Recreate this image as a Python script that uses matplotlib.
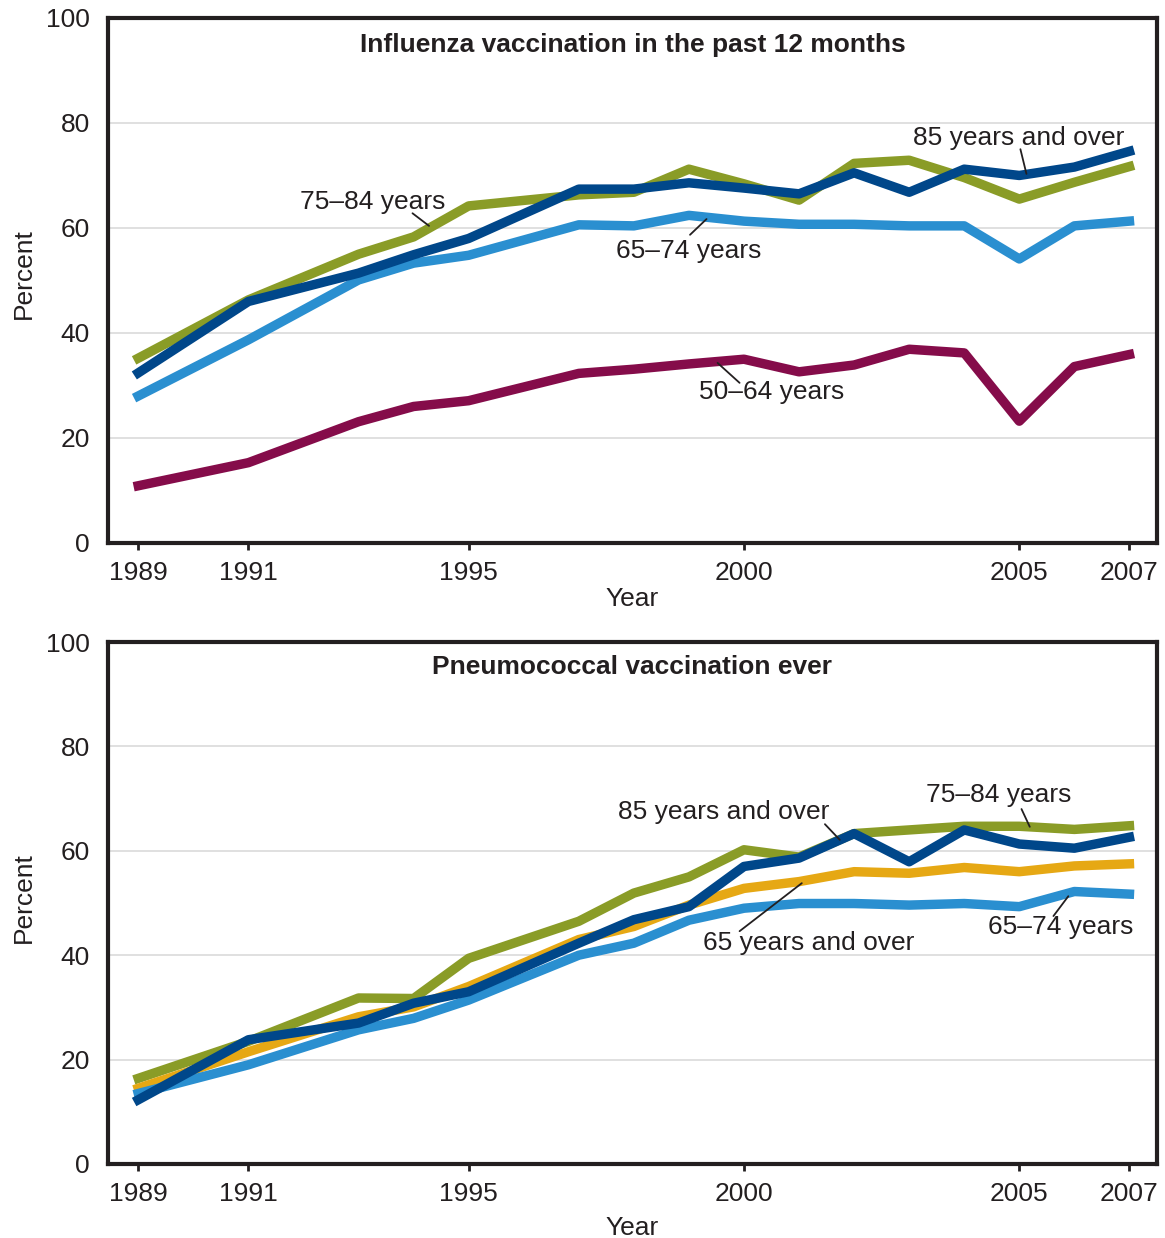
import matplotlib.pyplot as plt

plt.rcParams['font.family'] = ['Liberation Sans', 'DejaVu Sans']

years = [1989, 1991, 1993, 1994, 1995, 1997, 1998, 1999, 2000, 2001,
         2002, 2003, 2004, 2005, 2006, 2007]
tick_years = [1989, 1991, 1995, 2000, 2005, 2007]

# influenza vaccination in the past 12 months
flu_50_64 = [10.9, 15.3, 23.1, 26.0, 27.1, 32.3, 33.1, 34.1, 35.0, 32.6,
             33.9, 36.9, 36.2, 23.2, 33.6, 35.9]
flu_65_74 = [28.0, 38.7, 50.1, 53.3, 54.8, 60.6, 60.4, 62.4, 61.3, 60.7,
             60.7, 60.4, 60.4, 54.1, 60.4, 61.3]
flu_75_84 = [35.2, 46.3, 55.0, 58.3, 64.2, 66.3, 66.8, 71.2, 68.4, 65.3,
             72.3, 72.9, 69.6, 65.5, 68.7, 71.7]
flu_85 = [32.4, 46.0, 51.4, 54.9, 58.0, 67.4, 67.4, 68.6, 67.6, 66.5,
          70.5, 66.8, 71.2, 70.0, 71.6, 74.6]

# pneumococcal vaccination ever
pn_65 = [14.5, 21.5, 28.2, 30.1, 34.0, 43.0, 45.5, 49.6, 52.8, 54.1,
         56.0, 55.7, 56.8, 56.0, 57.1, 57.5]
pn_65_74 = [13.5, 19.0, 25.7, 27.9, 31.4, 40.0, 42.3, 46.7, 49.0, 49.9,
            49.9, 49.6, 49.9, 49.3, 52.2, 51.7]
pn_75_84 = [16.4, 23.5, 31.8, 31.7, 39.4, 46.5, 51.9, 55.0, 60.2, 58.8,
            63.3, 64.0, 64.7, 64.7, 64.1, 64.8]
pn_85 = [12.3, 23.8, 27.0, 30.8, 33.0, 42.3, 46.8, 49.3, 57.0, 58.6,
         63.3, 57.9, 64.0, 61.3, 60.5, 62.6]

GREEN = '#8a9c27'
DARK = '#00478a'
LIGHT = '#2a8fd0'
MAROON = '#850c4a'
ORANGE = '#e6a814'
INK = '#231f20'
FS = 19

fig = plt.figure(figsize=(11.65, 12.38), dpi=100)
ax1 = fig.add_axes([0.0927, 0.5614, 0.9004, 0.4241])
ax2 = fig.add_axes([0.0927, 0.0598, 0.9004, 0.4216])


def style(ax, title, ty, xpad, ly):
    ax.set_xlim(1988.45, 2007.5)
    ax.set_ylim(0, 100)
    ax.set_yticks([0, 20, 40, 60, 80, 100])
    ax.set_xticks(tick_years)
    ax.grid(axis='y', color='#dddddd', linewidth=1.3)
    ax.set_axisbelow(True)
    for s in ax.spines.values():
        s.set_linewidth(3)
        s.set_color(INK)
    ax.tick_params(axis='y', length=0, pad=13, labelsize=FS, labelcolor=INK)
    ax.tick_params(axis='x', length=5, width=2, color=INK, pad=8,
                   labelsize=FS, labelcolor=INK)
    ax.set_ylabel('Percent', fontsize=FS, color=INK)
    ax.yaxis.set_label_coords(-0.069, ly)
    ax.set_xlabel('Year', fontsize=FS, color=INK, labelpad=xpad)
    ax.text(0.5, ty, title, transform=ax.transAxes, ha='center', va='center',
            fontsize=FS, fontweight='bold', color=INK)


lw = 6.8
style(ax1, 'Influenza vaccination in the past 12 months', 0.949, 1.5, 0.514)
ax1.plot(years, flu_50_64, color=MAROON, lw=lw)
ax1.plot(years, flu_65_74, color=LIGHT, lw=lw)
ax1.plot(years, flu_75_84, color=GREEN, lw=lw)
ax1.plot(years, flu_85, color=DARK, lw=lw)

style(ax2, 'Pneumococcal vaccination ever', 0.952, 7, 0.511)
ax2.plot(years, pn_75_84, color=GREEN, lw=lw)
ax2.plot(years, pn_65, color=ORANGE, lw=lw)
ax2.plot(years, pn_65_74, color=LIGHT, lw=lw)
ax2.plot(years, pn_85, color=DARK, lw=lw)


def label(ax, text, pos, start, end):
    ax.text(pos[0], pos[1], text, ha='center', va='center',
            fontsize=FS, color=INK)
    ax.annotate('', xy=end, xytext=start,
                arrowprops=dict(arrowstyle='-', color=INK, lw=1.3,
                                shrinkA=0, shrinkB=0))


label(ax1, '75\u201384 years', (1993.25, 64.9), (1993.98, 62.8), (1994.28, 60.4))
label(ax1, '65\u201374 years', (1999.0, 55.6), (1999.02, 58.7), (1999.32, 61.7))
label(ax1, '50\u201364 years', (2000.5, 28.8), (1999.92, 30.5), (1999.52, 34.3))
label(ax1, '85 years and over', (2004.99, 77.1), (2005.02, 75.0), (2005.13, 70.3))

label(ax2, '85 years and over', (1999.63, 67.4), (2001.47, 65.1), (2001.74, 62.1))
label(ax2, '75\u201384 years', (2004.62, 70.7), (2005.04, 68.0), (2005.19, 64.6))
label(ax2, '65 years and over', (2001.18, 42.3), (1999.92, 44.6), (2001.05, 53.8))
label(ax2, '65\u201374 years', (2005.75, 45.4), (2005.62, 47.5), (2005.89, 51.3))

fig.savefig('out.png', dpi=100)
